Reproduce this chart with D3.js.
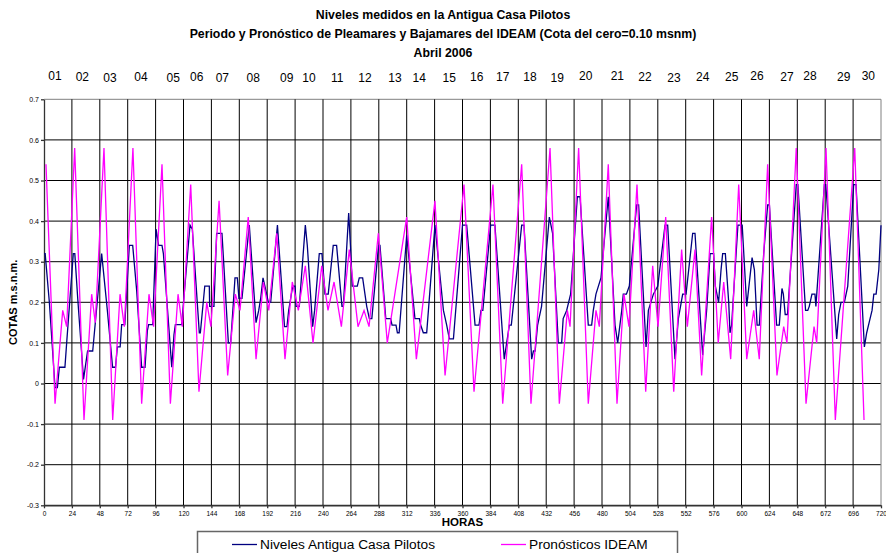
<!DOCTYPE html>
<html>
<head>
<meta charset="utf-8">
<script src="https://cdn.jsdelivr.net/npm/d3@7"></script>
<style>
  body { margin: 0; background: #fff; }
  text { font-family: "Liberation Sans", Arial, sans-serif; }
</style>
</head>
<body>
<div id="chart"></div>
<script>
var svgWidth = 886;
var svgHeight = 553;

// plot box (Excel-like inner area)
var plot = { left: 44, right: 881, top: 99.3, bottom: 505.3 };

// titles
var titleLines = [
  "Niveles medidos en la Antigua Casa Pilotos",
  "Periodo y Pronóstico de Pleamares y Bajamares del IDEAM (Cota del cero=0.10 msnm)",
  "Abril 2006"
];

// day labels sit above the plot at the hour where they were placed
var dayLabels = ["01","02","03","04","05","06","07","08","09","10","11","12","13","14","15",
                 "16","17","18","19","20","21","22","23","24","25","26","27","28","29","30"];
var dayHours = [9.5, 33, 56.8, 83.4, 111.2, 131.4, 153.4, 180, 208.8, 228, 252.3, 276.1, 301.9, 322.8, 348.6,
                372.2, 394.6, 418, 441.5, 466, 493.2, 517, 541.9, 566.6, 591.6, 613.3, 639.1, 658.9, 687.9, 709.1];

// axis ticks
var yTicks = [-0.3, -0.2, -0.1, 0, 0.1, 0.2, 0.3, 0.4, 0.5, 0.6, 0.7];
var xTicks = d3.range(0, 721, 24);

// measured levels: [hour, cota]
var niveles = [
  [0,0.32],[1,0.32],[4.6,0.2],[9.5,-0.01],[11.5,-0.01],[13.2,0.04],[18,0.04],[19.5,0.1],[25.2,0.32],[26.5,0.32],
  [29,0.21],[34,0.01],[37.5,0.08],[41.9,0.08],[49.6,0.32],[54.5,0.18],[59,0.04],[61.5,0.04],[63.1,0.09],[65.5,0.09],
  [66.8,0.145],[69.5,0.145],[73.4,0.34],[76.3,0.34],[79.7,0.23],[84,0.04],[86.9,0.04],[88.9,0.13],[90,0.145],[93.5,0.145],
  [96.4,0.38],[98.6,0.34],[101.5,0.34],[102.7,0.32],[109.9,0.04],[111.8,0.12],[113,0.145],[118.4,0.145],[125.6,0.39],[127.6,0.38],
  [133.6,0.125],[134.5,0.125],[138.3,0.24],[142.2,0.24],[142.5,0.19],[146.2,0.19],[148.5,0.37],[153.1,0.37],[158.6,0.10],[160.6,0.10],
  [164.3,0.26],[166.3,0.26],[167.7,0.21],[170.3,0.21],[176.6,0.39],[182.4,0.15],[184.7,0.18],[186.4,0.21],[188.4,0.26],[190,0.24],
  [193,0.2],[195,0.2],[200.8,0.39],[206.9,0.14],[209,0.14],[210.5,0.18],[213.9,0.24],[216,0.24],[216.8,0.19],[219.6,0.19],
  [224.8,0.39],[226.5,0.34],[231.1,0.14],[232.8,0.18],[236.8,0.32],[239.1,0.32],[241.7,0.22],[244.5,0.22],[248.8,0.34],[251.7,0.34],
  [256.3,0.19],[257.5,0.19],[262.1,0.42],[263.8,0.33],[265.2,0.24],[269.5,0.24],[271.2,0.26],[274.1,0.26],[277.6,0.19],[279.9,0.16],
  [282,0.16],[287.8,0.34],[289,0.34],[294,0.16],[298.2,0.16],[299.4,0.144],[302.8,0.144],[304,0.125],[305.5,0.125],[312,0.365],
  [319.1,0.16],[322.9,0.16],[324,0.144],[326.3,0.125],[329.2,0.125],[336.3,0.39],[343.6,0.18],[346.4,0.144],[348.7,0.11],[352.2,0.11],
  [360,0.39],[363.6,0.39],[370.8,0.144],[374.2,0.144],[375.9,0.18],[377.5,0.18],[384.2,0.39],[387.9,0.39],[395.9,0.06],[400.3,0.144],
  [402,0.144],[410.9,0.39],[412.9,0.39],[419.5,0.06],[421,0.08],[422.5,0.08],[424.6,0.144],[428,0.19],[434.7,0.41],[437.5,0.37],
  [442.4,0.10],[445.3,0.10],[446.6,0.16],[449.6,0.18],[453,0.22],[458.8,0.46],[461.1,0.46],[468.2,0.144],[471.1,0.144],[472.5,0.18],
  [474.8,0.22],[479.1,0.26],[485.4,0.46],[491.2,0.144],[493.5,0.10],[497,0.18],[498.3,0.22],[501,0.22],[503.5,0.24],[509.8,0.44],
  [511.5,0.44],[517.9,0.09],[519.9,0.18],[524.2,0.22],[528,0.24],[534.2,0.39],[536.5,0.39],[542.8,0.06],[545.7,0.16],[549.4,0.22],
  [552.3,0.22],[558,0.37],[560,0.37],[566.6,0.07],[570,0.18],[573,0.32],[576,0.32],[577.5,0.24],[580.3,0.2],[582.4,0.28],
  [583.8,0.32],[586.1,0.32],[589,0.2],[590.1,0.125],[591.5,0.144],[596.9,0.39],[600.6,0.39],[604.5,0.19],[609.1,0.31],[611.1,0.28],
  [613.4,0.144],[615.3,0.144],[619.1,0.32],[622.5,0.44],[624,0.44],[630.2,0.144],[632.5,0.144],[634.8,0.234],[636,0.22],[637.6,0.17],
  [639.6,0.17],[647.1,0.49],[648.5,0.49],[655.1,0.18],[657,0.18],[658.3,0.19],[660.6,0.22],[663.2,0.22],[664,0.19],[671.3,0.49],
  [672.5,0.49],[681.9,0.11],[683.6,0.17],[685.6,0.2],[688.5,0.2],[691.4,0.24],[696.5,0.49],[698.5,0.49],[705.7,0.09],[707.7,0.125],
  [710.6,0.16],[712.3,0.18],[713.8,0.22],[715.8,0.22],[718.1,0.28],[720,0.39]
];

// IDEAM forecast highs / lows
var pronHours = [1.7, 9.5, 16.1, 19.5, 26.4, 34.4, 41, 44.1, 51.6, 59.1, 65.4, 69.1, 76.5, 84, 90.3, 94.3,
  101.5, 108.7, 115.3, 119, 126.2, 133.3, 140, 143.6, 150.6, 158, 164.6, 168.6, 175.7, 182.4, 188.7, 193.3,
  200.2, 207.3, 213.6, 218.8, 224.8, 231.4, 238.9, 244.3, 249.5, 255.8, 262.6, 270.1, 275.3, 279.6, 287.6, 295.3,
  312, 320.3, 336.3, 345, 361.3, 369.9, 386.2, 394.6, 410.9, 418.9, 435.3, 443.3, 450.2, 452.5, 459.9, 468.2,
  474.8, 477.7, 485.4, 492.9, 498.9, 503.2, 510.1, 517.6, 523.6, 528.2, 534.8, 541.7, 548.5, 553.4, 560, 565.7,
  574.3, 580, 584.7, 590.7, 597.6, 604.5, 610.5, 615.3, 622.5, 630.5, 636.3, 639.1, 647.1, 655.5, 662.4, 664.7,
  672.7, 680.7, 697.4, 705.4];
var pronValues = [0.54, -0.05, 0.18, 0.14, 0.58, -0.09, 0.22, 0.15, 0.58, -0.09, 0.22, 0.14, 0.58, -0.05, 0.22, 0.14,
  0.54, -0.05, 0.22, 0.14, 0.49, -0.02, 0.20, 0.14, 0.45, 0.02, 0.22, 0.18, 0.41, 0.06, 0.25, 0.18,
  0.37, 0.06, 0.25, 0.18, 0.29, 0.10, 0.29, 0.18, 0.25, 0.14, 0.33, 0.14, 0.18, 0.14, 0.37, 0.10,
  0.41, 0.06, 0.45, 0.02, 0.49, -0.02, 0.49, -0.05, 0.54, -0.05, 0.58, -0.05, 0.18, 0.14, 0.58, -0.05,
  0.18, 0.14, 0.54, -0.05, 0.22, 0.14, 0.49, -0.02, 0.29, 0.14, 0.41, -0.02, 0.33, 0.14, 0.33, 0.02,
  0.41, 0.10, 0.25, 0.06, 0.49, 0.06, 0.18, 0.06, 0.54, 0.02, 0.14, 0.10, 0.58, -0.05, 0.14, 0.10,
  0.58, -0.09, 0.58, -0.09];

var seriesNames = ["Niveles Antigua Casa Pilotos", "Pronósticos IDEAM"];
var seriesColors = ["#000080", "#ff00ff"];

// -----------------------------------------------------------------------------

var svg = d3.select("#chart")
  .append("svg")
  .attr("width", svgWidth)
  .attr("height", svgHeight);

var xScale = d3.scaleLinear().domain([0, 720]).range([plot.left, plot.right]);
var yScale = d3.scaleLinear().domain([-0.3, 0.7]).range([plot.bottom, plot.top]);

// titles
svg.append("g").selectAll("text")
  .data(titleLines)
  .enter()
  .append("text")
  .attr("x", 443)
  .attr("y", (d, i) => 19 + i * 19)
  .attr("text-anchor", "middle")
  .style("font-size", "12.3px")
  .style("font-weight", "bold")
  .text(d => d);

// day labels (hand-placed text boxes in the original)
var dayDy = [0,0.6,1.6,1,1.6,0.6,1.6,1.6,1.6,1.6,1.6,1.6,1.6,1.6,2.3,1,1,1,1.6,-0.4,-0.4,1,1.6,1,1,-0.4,1,-0.4,1,-0.4];
svg.append("g").selectAll("text")
  .data(dayLabels)
  .enter()
  .append("text")
  .attr("x", (d, i) => xScale(dayHours[i]))
  .attr("y", (d, i) => 80 + dayDy[i])
  .attr("text-anchor", "middle")
  .style("font-size", "12px")
  .text(d => d);

// grid lines
svg.append("g")
  .selectAll("line")
  .data(yTicks)
  .enter()
  .append("line")
  .attr("x1", plot.left)
  .attr("x2", plot.right)
  .attr("y1", d => yScale(d))
  .attr("y2", d => yScale(d))
  .attr("stroke", d => d === 0.7 ? "#808080" : "#000")
  .attr("stroke-width", 1);

svg.append("g")
  .selectAll("line")
  .data(xTicks.slice(1))
  .enter()
  .append("line")
  .attr("x1", d => xScale(d))
  .attr("x2", d => xScale(d))
  .attr("y1", plot.top)
  .attr("y2", plot.bottom)
  .attr("stroke", d => d === 720 ? "#808080" : "#000")
  .attr("stroke-width", 1);

// axes
var leftAxis = d3.axisLeft(yScale)
  .tickValues(yTicks)
  .tickFormat(d => String(d))
  .tickSize(3)
  .tickSizeOuter(0)
  .tickPadding(2);

var bottomAxis = d3.axisBottom(xScale)
  .tickValues(xTicks)
  .tickFormat(d => String(d))
  .tickSize(3)
  .tickSizeOuter(0)
  .tickPadding(3);

var yAxis = svg.append("g")
  .attr("transform", `translate(${plot.left}, 0)`)
  .call(leftAxis);
yAxis.selectAll("text").style("font-size", "7px").attr("fill", "#000");
yAxis.selectAll("line, path").attr("stroke", "#333").attr("stroke-width", 1.3);

var xAxis = svg.append("g")
  .attr("transform", `translate(0, ${plot.bottom})`)
  .call(bottomAxis);
xAxis.selectAll("text").style("font-size", "6.5px").attr("fill", "#000");
xAxis.selectAll("line, path").attr("stroke", "#333").attr("stroke-width", 1.3);

// axis titles
svg.append("text")
  .attr("transform", `translate(17, ${(plot.top + plot.bottom) / 2}) rotate(-90)`)
  .attr("text-anchor", "middle")
  .style("font-size", "11px")
  .style("font-weight", "bold")
  .text("COTAS m.s.n.m.");

svg.append("text")
  .attr("x", (plot.left + plot.right) / 2)
  .attr("y", 526)
  .attr("text-anchor", "middle")
  .style("font-size", "11.5px")
  .style("font-weight", "bold")
  .text("HORAS");

// series
var line = d3.line()
  .x(d => xScale(d[0]))
  .y(d => yScale(d[1]));

svg.append("path")
  .datum(niveles)
  .attr("fill", "none")
  .attr("stroke", seriesColors[0])
  .attr("stroke-width", 1.3)
  .attr("d", line);

var pronostico = pronHours.map((h, i) => [h, pronValues[i]]);
svg.append("path")
  .datum(pronostico)
  .attr("fill", "none")
  .attr("stroke", seriesColors[1])
  .attr("stroke-width", 1.3)
  .attr("d", line);

// legend
var legend = svg.append("g");
legend.append("rect")
  .attr("x", 197.5)
  .attr("y", 531.5)
  .attr("width", 480)
  .attr("height", 30)
  .attr("fill", "#fff")
  .attr("stroke", "#666")
  .attr("stroke-width", 1.5);

var legendX = [232, 501];
seriesNames.forEach(function(name, i) {
  legend.append("line")
    .attr("x1", legendX[i])
    .attr("x2", legendX[i] + 25)
    .attr("y1", 544.5)
    .attr("y2", 544.5)
    .attr("stroke", seriesColors[i])
    .attr("stroke-width", 1.3);
  legend.append("text")
    .attr("x", legendX[i] + 28)
    .attr("y", 549)
    .style("font-size", "13.7px")
    .text(name);
});
</script>
</body>
</html>
